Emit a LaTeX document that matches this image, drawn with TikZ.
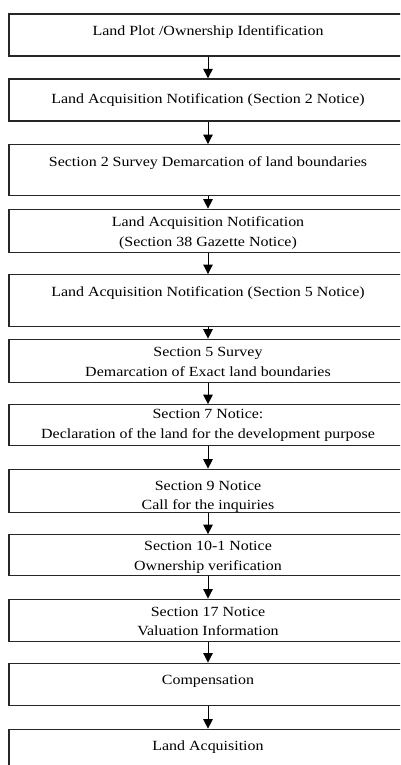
\documentclass[tikz,border=0pt]{standalone}
\usepackage{fontspec}
\setmainfont{Liberation Serif}[FakeStretch=1.14]
\usetikzlibrary{arrows.meta}
\begin{document}
\begin{tikzpicture}[x=1pt,y=-1pt,
  stagebox/.style={draw=black!85, line width=1.3pt, rectangle, inner sep=0pt,
    minimum width=398pt},
  txt/.style={anchor=base, inner sep=0pt, font=\fontsize{14}{16}\selectfont},
  flow/.style={draw=black, line width=1pt, -{Triangle[length=9.5pt,width=9.5pt]}}]
\useasboundingbox (0,0) rectangle (400,765);
\clip (0,0) rectangle (400,765);
% process stages: centre, height
\node[stagebox, minimum height=42pt] (b1)  at (208,35)    {};
\node[stagebox, minimum height=42pt] (b2)  at (208,100)   {};
\node[stagebox, minimum height=51pt] (b3)  at (208,170.2) {};
\node[stagebox, minimum height=43pt] (b4)  at (208,230.8) {};
\node[stagebox, minimum height=52pt] (b5)  at (208,300.7) {};
\node[stagebox, minimum height=43pt] (b6)  at (208,360.8) {};
\node[stagebox, minimum height=41pt] (b7)  at (208,425.3) {};
\node[stagebox, minimum height=43pt] (b8)  at (208,490.8) {};
\node[stagebox, minimum height=41pt] (b9)  at (208,555.3) {};
\node[stagebox, minimum height=42pt] (b10) at (208,620.2) {};
\node[stagebox, minimum height=42pt] (b11) at (208,684.2) {};
\node[stagebox, minimum height=60pt] (b12) at (208,759.3) {};
% labels
\node[txt] (t1)  at (208,36)    {Land Plot /Ownership Identification};
\node[txt] (t2)  at (208,103.3) {Land Acquisition Notification (Section 2 Notice)};
\node[txt] (t3)  at (208,166)   {Section 2 Survey Demarcation of land boundaries};
\node[txt] (t4a) at (208,226.7) {Land Acquisition Notification};
\node[txt] (t4b) at (208,246.7) {(Section 38 Gazette Notice)};
\node[txt] (t5)  at (208,296)   {Land Acquisition Notification (Section 5 Notice)};
\node[txt] (t6a) at (208,356.7) {Section 5 Survey};
\node[txt] (t6b) at (208,376.7) {Demarcation of Exact land boundaries};
\node[txt] (t7a) at (208,418.3) {Section 7 Notice:};
\node[txt] (t7b) at (208,438.3) {Declaration of the land for the development purpose};
\node[txt] (t8a) at (208,490)   {Section 9 Notice};
\node[txt] (t8b) at (208,509)   {Call for the inquiries};
\node[txt] (t9a) at (208,550.7) {Section 10-1 Notice};
\node[txt] (t9b) at (208,570)   {Ownership verification};
\node[txt] (t10a) at (208,616.7) {Section 17 Notice};
\node[txt] (t10b) at (208,635)  {Valuation Information};
\node[txt] (t11) at (208,684.3) {Compensation};
\node[txt] (t12) at (208,750)   {Land Acquisition};
% connectors
\foreach \a/\b in {b1/b2,b2/b3,b3/b4,b4/b5,b5/b6,b6/b7,b7/b8,b8/b9,b9/b10,b10/b11,b11/b12}
  \draw[flow] (\a.south) -- (\b.north);
\end{tikzpicture}
\end{document}
